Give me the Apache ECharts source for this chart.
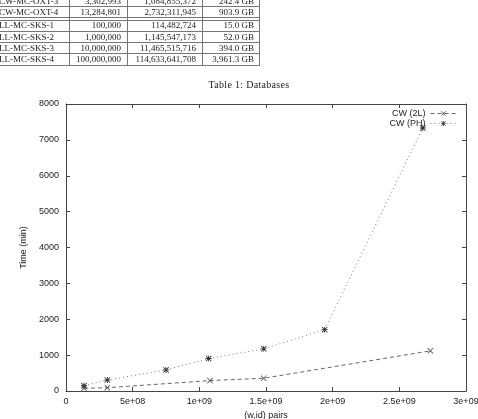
<!DOCTYPE html>
<html>
<head>
<meta charset="utf-8">
<script src="https://cdn.jsdelivr.net/npm/echarts@6/dist/echarts.min.js"></script>
<style>
html,body{margin:0;padding:0;background:#fff;width:478px;height:419px;overflow:hidden;position:relative;}
#chart{position:absolute;left:0;top:0;width:478px;height:419px;}
.t{position:absolute;font-family:"Liberation Serif","DejaVu Serif",serif;font-size:9px;color:#222;line-height:10px;white-space:nowrap;}
.r{text-align:right;}
.hl{position:absolute;height:1px;background:#777;}
.vl{position:absolute;width:1px;background:#777;}
</style>
</head>
<body>
<div id="chart"></div>
<div id="table"></div>
<script>
// ---- table data (cropped LaTeX table above the chart) ----
const tableNames = ["CW-MC-OXT-3", "CW-MC-OXT-4", "LL-MC-SKS-1", "LL-MC-SKS-2", "LL-MC-SKS-3", "LL-MC-SKS-4"];
const tableCol1 = ["3,302,993", "13,284,801", "100,000", "1,000,000", "10,000,000", "100,000,000"];
const tableCol2 = ["1,084,855,372", "2,732,311,945", "114,482,724", "1,145,547,173", "11,465,515,716", "114,633,641,708"];
const tableCol3 = ["242.4 GB", "903.9 GB", "15.0 GB", "52.0 GB", "394.0 GB", "3,961.3 GB"];
const tableCaption = "Table 1: Databases";

// ---- chart data ----
const xTicks = [0, 5e8, 1e9, 1.5e9, 2e9, 2.5e9, 3e9];
const xTickLabels = ["0", "5e+08", "1e+09", "1.5e+09", "2e+09", "2.5e+09", "3e+09"];
const yTicks = [0, 1000, 2000, 3000, 4000, 5000, 6000, 7000, 8000];
const yTickLabels = ["0", "1000", "2000", "3000", "4000", "5000", "6000", "7000", "8000"];
const seriesNames = ["CW (2L)", "CW (PH)"];
const pairs2L = [1.35e8, 3.1e8, 1.08e9, 1.483e9, 2.733e9];
const time2L = [75, 92, 290, 356, 1120];
const pairsPH = [1.35e8, 3.1e8, 7.5e8, 1.07e9, 1.483e9, 1.94e9, 2.676e9];
const timePH = [148, 306, 588, 905, 1176, 1709, 7330];

// ---- build table ----
(function(){
  const host = document.getElementById('table');
  const rowCenters = [0.5, 11.5, 25, 36.5, 47.7, 58.8];
  const colRight = [null, 121, 196, 254];
  function add(cls, style, text){
    const d = document.createElement('div');
    d.className = cls;
    Object.assign(d.style, style);
    if (text !== undefined) d.textContent = text;
    host.appendChild(d);
  }
  for (let i = 0; i < tableNames.length; i++) {
    const top = (rowCenters[i] - 5) + 'px';
    add('t', {left:'-1px', top:top}, tableNames[i]);
    add('t r', {right:(478 - colRight[1]) + 'px', top:top}, tableCol1[i]);
    add('t r', {right:(478 - colRight[2]) + 'px', top:top}, tableCol2[i]);
    add('t r', {right:(478 - colRight[3]) + 'px', top:top}, tableCol3[i]);
  }
  [6, 17, 19.5, 31, 42.3, 53.3, 64.5].forEach(y => add('hl', {left:'0px', width:'260px', top:Math.round(y) + 'px'}));
  [69, 127, 202, 259].forEach(x => add('vl', {left:x + 'px', top:'0px', height:'65px'}));
  add('t', {left:'199px', top:'80px', width:'100px', textAlign:'center', fontSize:'10px', letterSpacing:'0.3px'}, tableCaption);
})();

// ---- chart ----
const xPath = 'path://M0,1L1,0L5,4L9,0L10,1L6,5L10,9L9,10L5,6L1,10L0,9L4,5Z';
const starPath = 'path://M0,1L1,0L5,4L9,0L10,1L6,5L10,9L9,10L5,6L1,10L0,9L4,5Z M3,3H7V7H3Z M4.3,0H5.7V10H4.3Z M0,4.3H10V5.7H0Z';

const chart = echarts.init(document.getElementById('chart'), null, {renderer:'canvas'});
const font = '"Liberation Sans", Arial, sans-serif';
const axisLineStyle = {color:'#444', width:1};
const xMin = xTicks[0], xMax = xTicks[xTicks.length - 1], xInt = xTicks[1] - xTicks[0];
const yMin = yTicks[0], yMax = yTicks[yTicks.length - 1], yInt = yTicks[1] - yTicks[0];

chart.setOption({
  animation:false,
  backgroundColor:'transparent',
  textStyle:{fontFamily:font},
  grid:{left:66, right:12, top:104, bottom:28, containLabel:false, outerBoundsMode:'none'},
  legend:{
    orient:'vertical', right:16, top:104, align:'right',
    itemWidth:26, itemHeight:6, itemGap:1,
    lineStyle:{width:1},
    textStyle:{fontFamily:font, fontSize:9, color:'#222', lineHeight:8, padding:[0,0,0,0]},
    data:seriesNames
  },
  xAxis:[{
    type:'value', min:xMin, max:xMax, interval:xInt,
    name:'(w,id) pairs', nameLocation:'middle', nameGap:19,
    nameTextStyle:{fontFamily:font, fontSize:9, color:'#222'},
    axisLine:{show:true, onZero:false, lineStyle:axisLineStyle},
    axisTick:{show:true, inside:true, length:4, lineStyle:axisLineStyle},
    axisLabel:{fontFamily:font, fontSize:9, color:'#222', margin:6,
      formatter:function(v){ const i = xTicks.indexOf(v); return i >= 0 ? xTickLabels[i] : ''; }},
    splitLine:{show:false}
  },{
    type:'value', position:'top', min:xMin, max:xMax, interval:xInt,
    axisLine:{show:true, onZero:false, lineStyle:axisLineStyle},
    axisTick:{show:true, inside:true, length:4, lineStyle:axisLineStyle},
    axisLabel:{show:false}, splitLine:{show:false}
  }],
  yAxis:[{
    type:'value', min:yMin, max:yMax, interval:yInt,
    name:'Time (min)', nameLocation:'middle', nameGap:38,
    nameTextStyle:{fontFamily:font, fontSize:9, color:'#222'},
    axisLine:{show:true, onZero:false, lineStyle:axisLineStyle},
    axisTick:{show:true, inside:true, length:4, lineStyle:axisLineStyle},
    axisLabel:{fontFamily:font, fontSize:9, color:'#222', margin:7,
      formatter:function(v){ const i = yTicks.indexOf(v); return i >= 0 ? yTickLabels[i] : ''; }},
    splitLine:{show:false}
  },{
    type:'value', position:'right', min:yMin, max:yMax, interval:yInt,
    axisLine:{show:true, onZero:false, lineStyle:axisLineStyle},
    axisTick:{show:true, inside:true, length:4, lineStyle:axisLineStyle},
    axisLabel:{show:false}, splitLine:{show:false}
  }],
  series:[{
    name:seriesNames[0], type:'line', xAxisIndex:0, yAxisIndex:0,
    data:pairs2L.map((x, i) => [x, time2L[i]]),
    symbol:xPath, symbolSize:6, symbolKeepAspect:true,
    itemStyle:{color:'#555'},
    lineStyle:{color:'#666', width:1, type:[4,3]}
  },{
    name:seriesNames[1], type:'line', xAxisIndex:0, yAxisIndex:0,
    data:pairsPH.map((x, i) => [x, timePH[i]]),
    symbol:starPath, symbolSize:6, symbolKeepAspect:true,
    itemStyle:{color:'#333'},
    lineStyle:{color:'#777', width:1, type:[1,3]}
  }]
});
</script>
</body>
</html>
